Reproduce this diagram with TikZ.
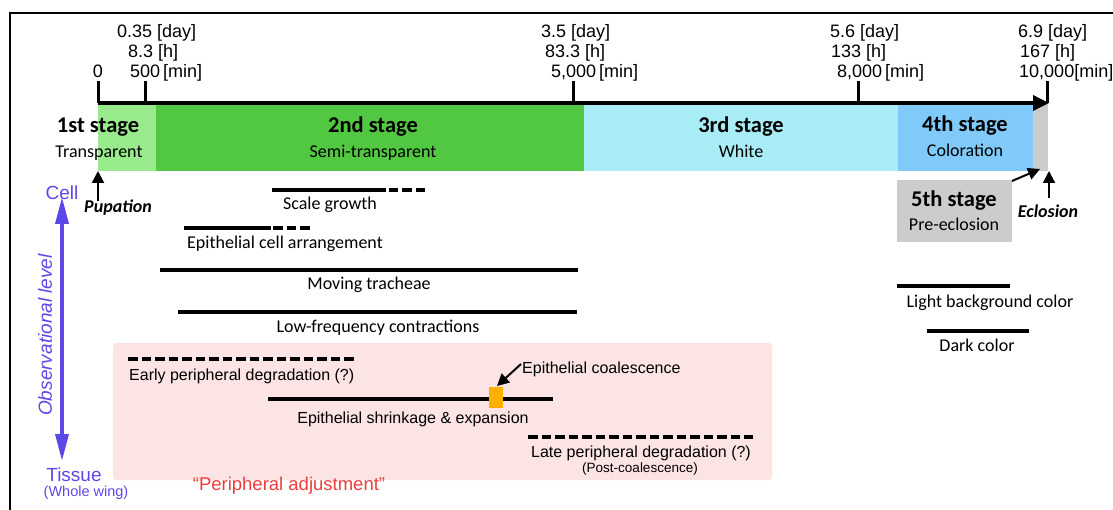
\documentclass[tikz,border=0pt]{standalone}
\usepackage{fontspec}
\setmainfont{Liberation Sans}
\newfontfamily\calib{Carlito}
\usetikzlibrary{arrows.meta}
\definecolor{gA}{RGB}{152,234,140}
\definecolor{gB}{RGB}{82,200,66}
\definecolor{cC}{RGB}{168,236,246}
\definecolor{bD}{RGB}{128,202,250}
\definecolor{grE}{RGB}{204,204,204}
\definecolor{pinkP}{RGB}{252,228,228}
\definecolor{orO}{RGB}{255,176,0}
\definecolor{bluL}{RGB}{92,72,232}
\definecolor{redR}{RGB}{240,60,60}
\begin{document}
\begin{tikzpicture}[x=1pt,y=-1pt,
  bar/.style={draw=none,inner sep=0pt,outer sep=0pt,anchor=north west},
  tick/.style={font=\fontsize{18}{20}\selectfont,inner sep=0pt,anchor=base west},
  stg/.style={font=\calib\bfseries\fontsize{22.5}{26}\selectfont,inner sep=0pt,anchor=base},
  sub/.style={font=\calib\fontsize{18}{21}\selectfont,inner sep=0pt,anchor=base},
  lab/.style={font=\calib\fontsize{18}{21}\selectfont,inner sep=0pt,anchor=base},
  alab/.style={font=\fontsize{16}{19}\selectfont,inner sep=0pt,anchor=base},
  evt/.style={line width=3.5pt},
  evtd/.style={line width=3.5pt,dash pattern=on 9.5pt off 4pt},
  bl/.style={text=bluL,inner sep=0pt,anchor=base},
  arr/.style={line width=2pt,-{Triangle[length=12pt,width=12pt]}},
]
\useasboundingbox (0,0) rectangle (1113,510);
% frame
\coordinate (fTL) at (10,13);
\coordinate (fTR) at (1113,13);
\coordinate (fBL) at (10,510);
\draw[line width=2pt] (fTR) -- (fTL) -- (fBL);

% stage bars
\node[bar,fill=gA,minimum width=58,minimum height=67] (s1) at (98,104) {};
\node[bar,fill=gB,minimum width=428,minimum height=67] (s2) at (156,104) {};
\node[bar,fill=cC,minimum width=314,minimum height=67] (s3) at (584,104) {};
\node[bar,fill=bD,minimum width=135,minimum height=67] (s4) at (898,104) {};
\node[bar,fill=grE,minimum width=15,minimum height=67] (s5) at (1033,104) {};

% axis
\coordinate (ax0) at (98,103);
\coordinate (axE) at (1049,103);
\draw[line width=3.5pt,-{Triangle[length=16pt,width=15pt]}] (ax0) -- (axE);
\foreach \n/\xx in {a/98,b/145,c/573,d/858,e/1047}{
  \coordinate (t\n b) at (\xx,103);
  \coordinate (t\n u) at (\xx,81);
  \draw[line width=3pt] (t\n b) -- (t\n u);
}

% tick labels
\node[tick,anchor=base] (l0) at (98,78) {0};
\node[tick] (lb1) at (117,38) {0.35 [day]};
\node[tick] (lb2) at (128,58) {8.3 [h]};
\node[tick] (lb3) at (130,78) {500\,[min]};
\node[tick] (lc1) at (541,38) {3.5 [day]};
\node[tick] (lc2) at (545,58) {83.3 [h]};
\node[tick] (lc3) at (551,78) {5,000\,[min]};
\node[tick] (ld1) at (830,38) {5.6 [day]};
\node[tick] (ld2) at (831,58) {133 [h]};
\node[tick] (ld3) at (837,78) {8,000\,[min]};
\node[tick] (le1) at (1018,38) {6.9 [day]};
\node[tick] (le2) at (1020,58) {167 [h]};
\node[tick] (le3) at (1019,78) {10,000[min]};

% stage labels
\node[stg] (n1) at (98,133) {1st stage};
\node[sub] (m1) at (99,158) {Transparent};
\node[stg] (n2) at (373,133) {2nd stage};
\node[sub] (m2) at (373,158) {Semi-transparent};
\node[stg] (n3) at (741,133) {3rd stage};
\node[sub] (m3) at (741,158) {White};
\node[stg] (n4) at (965,132) {4th stage};
\node[sub] (m4) at (965,157) {Coloration};

% 5th stage box
\node[bar,fill=grE,minimum width=115,minimum height=62] (b5) at (897,180) {};
\node[stg] (n5) at (954,207) {5th stage};
\node[sub] (m5) at (954,231) {Pre-eclosion};
\coordinate (b5a) at (1012,181);
\coordinate (b5t) at (1040,169);
\draw[arr] (b5a) -- (b5t);

% eclosion / pupation
\coordinate (ecB) at (1049,198);
\coordinate (ecT) at (1049,171);
\draw[arr] (ecB) -- (ecT);
\node[font=\calib\bfseries\itshape\fontsize{18}{21}\selectfont,inner sep=0pt,anchor=base] (ecl) at (1048,218) {Eclosion};
\coordinate (puB) at (98,201);
\coordinate (puT) at (98,171);
\draw[arr] (puB) -- (puT);
\node[font=\calib\bfseries\itshape\fontsize{18}{21}\selectfont,inner sep=0pt,anchor=base] (pup) at (118,213) {Pupation};

% observational level
\node[bl,font=\fontsize{19}{22}\selectfont] (cell) at (62,200) {Cell};
\node[bl,font=\fontsize{19}{22}\selectfont] (tis) at (74,481) {Tissue};
\node[bl,font=\fontsize{14.5}{17}\selectfont] (ww) at (86,496) {(Whole wing)};
\coordinate (ovT) at (62,197);
\coordinate (ovB) at (62,461);
\draw[bluL,line width=3.5pt,{Triangle[length=27pt,width=13pt]}-{Triangle[length=27pt,width=13pt]}] (ovT) -- (ovB);
\node[text=bluL,font=\itshape\fontsize{19}{22}\selectfont,rotate=90,inner sep=0pt] (obs) at (45,335) {Observational level};

% cell-level events
\coordinate (sgA) at (272,190); \coordinate (sgB) at (386,190); \coordinate (sgC) at (426,190);
\draw[evt] (sgA) -- (sgB);
\draw[evtd] (sgB) ++(2.5,0) coordinate (sgB2) (sgB2) -- (sgC);
\node[lab] (sgt) at (330,210) {Scale growth};

\coordinate (eaA) at (184,228); \coordinate (eaB) at (271,228); \coordinate (eaC) at (310,228);
\draw[evt] (eaA) -- (eaB);
\draw[evtd] (eaB) ++(2,0) coordinate (eaB2) (eaB2) -- (eaC);
\node[lab,anchor=base west] (eat) at (187,249) {Epithelial cell arrangement};

\coordinate (mtA) at (160,270); \coordinate (mtB) at (578,270);
\draw[evt] (mtA) -- (mtB);
\node[lab] (mtt) at (369,290) {Moving tracheae};

\coordinate (lfA) at (178,312); \coordinate (lfB) at (577,312);
\draw[evt] (lfA) -- (lfB);
\node[lab] (lft) at (378,333) {Low-frequency contractions};

% tissue-level box
\node[bar,fill=pinkP,rounded corners=3pt,minimum width=659,minimum height=137] (pb) at (113,343) {};

\coordinate (epA) at (128,359); \coordinate (epB) at (355,359);
\draw[evtd] (epA) -- (epB);
\node[alab,anchor=base west] (ept) at (129,380) {Early peripheral degradation (?)};

\coordinate (esA) at (268,399); \coordinate (esB) at (553,399);
\draw[evt] (esA) -- (esB);
\node[alab] (est) at (413,423) {Epithelial shrinkage \& expansion};
\node[bar,fill=orO,minimum width=14,minimum height=21] (orr) at (489,387) {};

\node[alab,anchor=base west] (cot) at (522,373) {Epithelial coalescence};
\coordinate (coA) at (521,364);
\coordinate (coT) at (497,386);
\draw[arr,line width=2pt] (coA) -- (coT);

\coordinate (lpA) at (528,437); \coordinate (lpB) at (753,437);
\draw[evtd] (lpA) -- (lpB);
\node[alab] (lpt) at (641,457) {Late peripheral degradation (?)};
\node[alab,font=\fontsize{13.5}{16}\selectfont] (pct) at (640,472) {(Post-coalescence)};

\node[alab,text=redR,font=\fontsize{18.5}{22}\selectfont] (pa) at (289,490) {“Peripheral adjustment”};

% legend
\coordinate (lgA) at (897,286); \coordinate (lgB) at (1010,286);
\draw[evt] (lgA) -- (lgB);
\node[lab] (lgt) at (990,308) {Light background color};
\coordinate (dcA) at (927,331); \coordinate (dcB) at (1029,331);
\draw[evt] (dcA) -- (dcB);
\node[lab] (dct) at (977,352) {Dark color};
\end{tikzpicture}
\end{document}
